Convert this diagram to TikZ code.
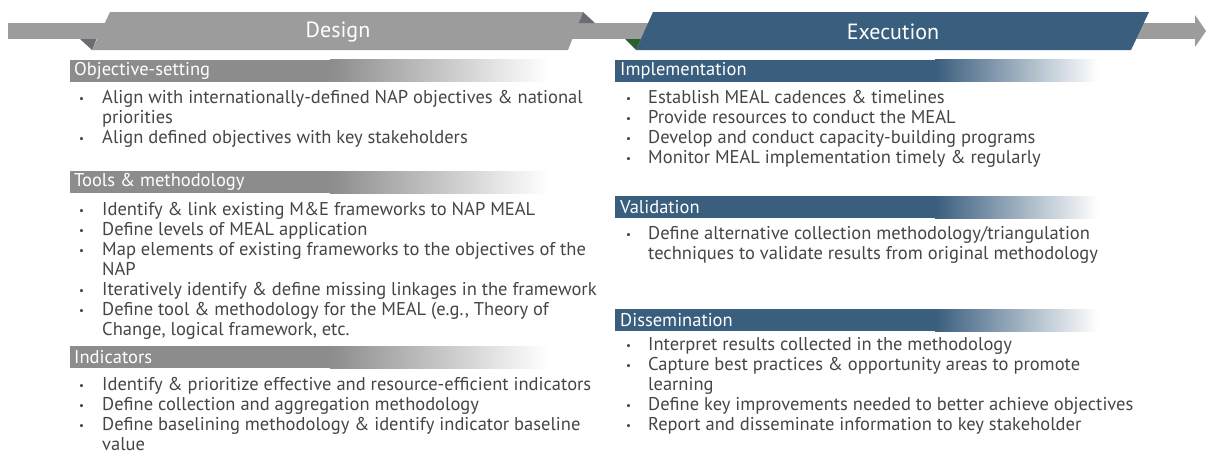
\documentclass[tikz,border=0pt]{standalone}
\usepackage{fontspec}
\setmainfont{PT Sans}
\definecolor{bandgray}{HTML}{9C9C9C}
\definecolor{foldgray}{HTML}{6C6C72}
\definecolor{exblue}{HTML}{3A5E7E}
\definecolor{foldgreen}{HTML}{2D5E2F}
\definecolor{hdrgray}{HTML}{8C8C8C}
\definecolor{txt}{HTML}{454545}
\tikzset{
  bannertext/.style={text=white, font=\fontsize{22}{24}\selectfont, inner sep=0pt},
  hdrtext/.style={text=white, font=\fontsize{18.5}{20}\selectfont, anchor=west, inner sep=0pt},
  body/.style={text=txt, font=\fontsize{18.5}{20}\selectfont, anchor=north west, inner sep=0pt},
}
\newcommand{\bul}{\raisebox{1pt}{\fontsize{11}{11}\selectfont\textbullet}}
\begin{document}
\begin{tikzpicture}[x=1pt,y=-1pt]
\useasboundingbox (0,0) rectangle (1206,464);
% timeline bar and arrow
\fill[bandgray] (8,23) rectangle (1196,38.5);
\fill[bandgray] (1195,15) -- (1206,31) -- (1195,47) -- cycle;
% Design banner
\fill[bandgray] (110,12) -- (583,12) -- (568,50) -- (92,50) -- cycle;
\fill[foldgray] (80,39) -- (96.6,39) -- (92,50) -- cycle;
\fill[foldgray] (583,12) -- (578.7,23) -- (595,23) -- cycle;
\node[bannertext] (design) at (338,32) {Design};
% Execution banner
\fill[exblue] (653,12) -- (1149,12) -- (1131,50) -- (636,50) -- cycle;
\fill[foldgreen] (625,39) -- (640.9,39) -- (636,50) -- cycle;
\node[bannertext] (execution) at (893,32) {Execution};

% ---------- left column headers ----------
\foreach \t in {59.5,171,346}{
  \fill[hdrgray] (70,\t) rectangle (331,\t+22);
  \shade[left color=hdrgray, right color=white] (330,\t) rectangle (548,\t+22);
}
\node[hdrtext] (hobj) at (74,70.5) {Objective-setting};
\node[hdrtext] (htools) at (74,182) {Tools \& methodology};
\node[hdrtext] (hind) at (74,357) {Indicators};

% ---------- right column headers ----------
\foreach \t in {59.5,196,309}{
  \fill[exblue] (615,\t) rectangle (936,\t+22);
  \shade[left color=exblue, right color=white] (935,\t) rectangle (1098,\t+22);
}
\node[hdrtext] (himpl) at (620,70.5) {Implementation};
\node[hdrtext] (hval) at (620,207) {Validation};
\node[hdrtext] (hdiss) at (620,320) {Dissemination};

% ---------- left bodies ----------
\node[body] (bobj) at (79,89) {\begin{tabular}{@{}p{23pt}@{}l@{}}
\bul & Align with internationally-defined NAP objectives \& national\\
 & priorities\\
\bul & Align defined objectives with key stakeholders
\end{tabular}};
\node[body] (btools) at (79,201) {\begin{tabular}{@{}p{23pt}@{}l@{}}
\bul & Identify \& link existing M\&E frameworks to NAP MEAL\\
\bul & Define levels of MEAL application\\
\bul & Map elements of existing frameworks to the objectives of the\\
 & NAP\\
\bul & Iteratively identify \& define missing linkages in the framework\\
\bul & Define tool \& methodology for the MEAL (e.g., Theory of\\
 & Change, logical framework, etc.
\end{tabular}};
\node[body] (bind) at (79,376) {\begin{tabular}{@{}p{23pt}@{}l@{}}
\bul & Identify \& prioritize effective and resource-efficient indicators\\
\bul & Define collection and aggregation methodology\\
\bul & Define baselining methodology \& identify indicator baseline\\
 & value
\end{tabular}};

% ---------- right bodies ----------
\node[body] (bimpl) at (626,89) {\begin{tabular}{@{}p{22pt}@{}l@{}}
\bul & Establish MEAL cadences \& timelines\\
\bul & Provide resources to conduct the MEAL\\
\bul & Develop and conduct capacity-building programs\\
\bul & Monitor MEAL implementation timely \& regularly
\end{tabular}};
\node[body] (bval) at (626,225) {\begin{tabular}{@{}p{22pt}@{}l@{}}
\bul & Define alternative collection methodology/triangulation\\
 & techniques to validate results from original methodology
\end{tabular}};
\node[body] (bdiss) at (626,336) {\begin{tabular}{@{}p{22pt}@{}l@{}}
\bul & Interpret results collected in the methodology\\
\bul & Capture best practices \& opportunity areas to promote\\
 & learning\\
\bul & Define key improvements needed to better achieve objectives\\
\bul & Report and disseminate information to key stakeholder
\end{tabular}};
\end{tikzpicture}
\end{document}
